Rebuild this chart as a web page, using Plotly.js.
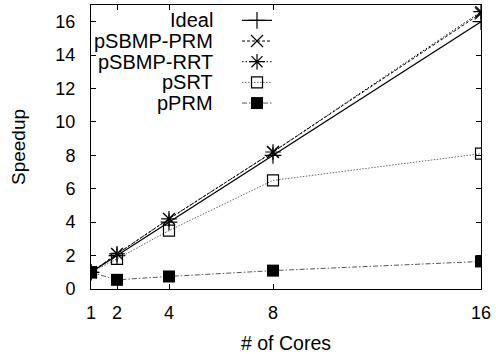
<!DOCTYPE html>
<html>
<head>
<meta charset="utf-8">
<script src="https://cdn.plot.ly/plotly-3.0.1.min.js"></script>
<style>html,body{margin:0;padding:0;background:#fff;}#chart{width:496px;height:354px;}</style>
</head>
<body>
<div id="chart"></div>
<script>
const cores = [1, 2, 4, 8, 16];
const ideal = [1, 2, 4, 8, 16];
const psbmpPRM = [1, 2.1, 4.2, 8.2, 16.5];
const psbmpRRT = [1, 2.1, 4.2, 8.2, 16.6];
const psrt = [1, 1.8, 3.5, 6.5, 8.1];
const pprm = [1, 0.55, 0.75, 1.1, 1.65];
const names = ["Ideal", "pSBMP-PRM", "pSBMP-RRT", "pSRT", "pPRM"];
const xTicks = [1, 2, 4, 8, 16];
const yTicks = [0, 2, 4, 6, 8, 10, 12, 14, 16];

const series = [ideal, psbmpPRM, psbmpRRT, psrt, pprm];
const styles = [
  {line: {color: "#000", width: 1.2, dash: "solid"}, marker: {symbol: "cross-thin-open", size: 12, color: "#000", line: {color: "#000", width: 1.2}}},
  {line: {color: "#000", width: 1, dash: "3px,2px"}, marker: {symbol: "x-thin-open", size: 12, color: "#000", line: {color: "#000", width: 1.2}}},
  {line: {color: "#000", width: 1, dash: "1.5px,2px"}, marker: {symbol: "asterisk-open", size: 13, color: "#000", line: {color: "#000", width: 1.2}}},
  {line: {color: "#666", width: 1, dash: "1.5px,1.5px"}, marker: {symbol: "square-open", size: 11, color: "#000", line: {color: "#222", width: 1.2}}},
  {line: {color: "#555", width: 1, dash: "5px,2px,1.5px,2px"}, marker: {symbol: "square", size: 12, color: "#000", line: {color: "#000", width: 0}}}
];

// legend samples drawn by Plotly's legend; entry names are shown as right-aligned text to their left (gnuplot style)
const traces = series.map((ys, i) => Object.assign({
  x: cores, y: ys, name: " ", type: "scatter", mode: "lines+markers"
}, styles[i]));

const fontFam = "Liberation Sans, Arial, sans-serif";
const plotTop = 5, plotH = 284, rowH = 20.65, firstRow = 15.3;
const legendLabels = names.map((n, i) => ({
  text: n, xref: "paper", yref: "paper",
  x: 0.318, xanchor: "right",
  y: 1 - (firstRow + rowH * i) / plotH, yanchor: "middle",
  showarrow: false, font: {family: fontFam, size: 20, color: "#000"}
}));

const layout = {
  width: 496, height: 354,
  margin: {l: 91, r: 15, t: plotTop, b: 65},
  paper_bgcolor: "#fff", plot_bgcolor: "#fff",
  font: {family: fontFam, size: 18, color: "#000"},
  showlegend: true,
  legend: {x: 0.3744, y: 1, xanchor: "left", yanchor: "top", bgcolor: "rgba(0,0,0,0)",
           borderwidth: 0, font: {size: 13.6}, tracegroupgap: 0, itemwidth: 30},
  annotations: legendLabels,
  xaxis: {
    range: [1, 16], tickvals: xTicks, ticktext: xTicks.map(String),
    ticks: "inside", ticklen: 5, tickcolor: "#000", mirror: "allticks",
    showline: true, linecolor: "#000", linewidth: 1, showgrid: false, zeroline: false,
    ticklabelstandoff: 7, tickfont: {size: 18, color: "#000"},
    title: {text: "# of Cores", standoff: 15, font: {size: 19.5, color: "#000"}}
  },
  yaxis: {
    range: [0, 17], tickvals: yTicks, ticktext: yTicks.map(String),
    ticks: "inside", ticklen: 5, tickcolor: "#000", mirror: "allticks",
    showline: true, linecolor: "#000", linewidth: 1, showgrid: false, zeroline: false,
    ticklabelstandoff: 11, tickfont: {size: 18, color: "#000"},
    title: {text: "Speedup", standoff: 24, font: {size: 19, color: "#000"}}
  }
};
Plotly.newPlot("chart", traces, layout, {staticPlot: true, displayModeBar: false});
</script>
</body>
</html>
